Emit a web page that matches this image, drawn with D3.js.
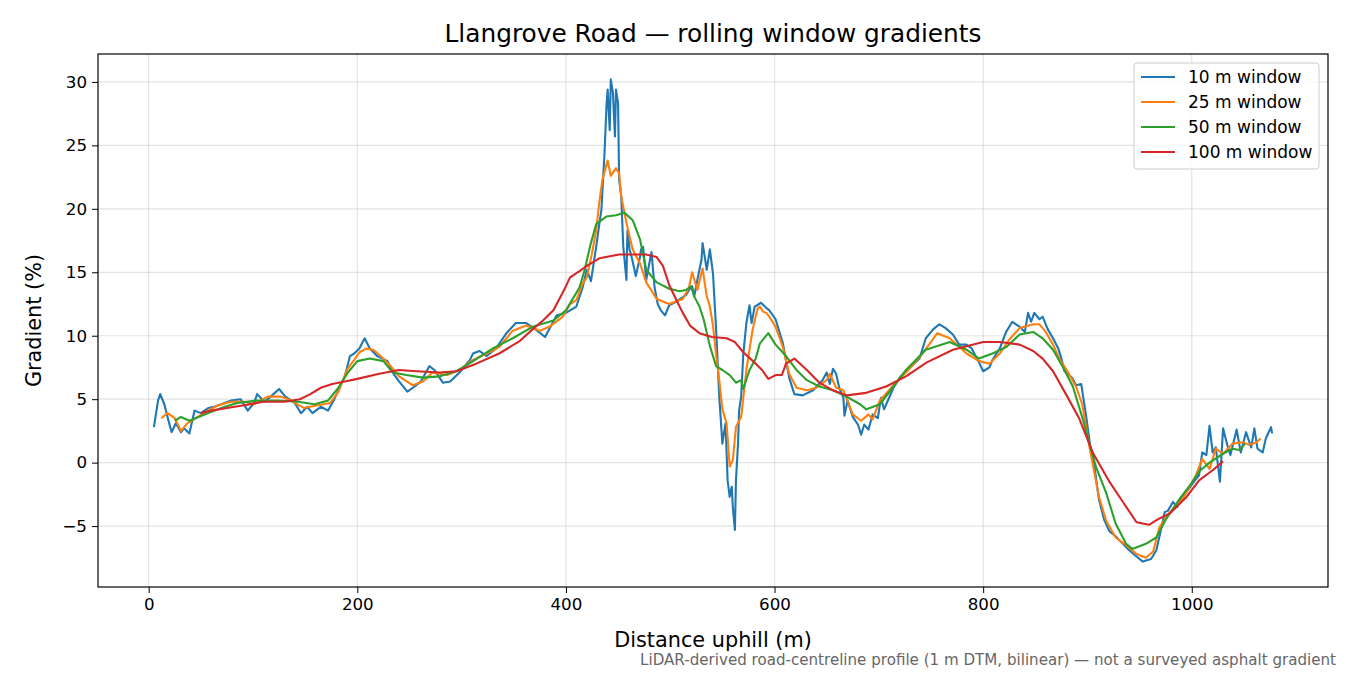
<!DOCTYPE html>
<html><head><meta charset="utf-8">
<script src="https://cdn.jsdelivr.net/npm/d3@7"></script>
<style>body{margin:0;background:#fff}svg{display:block;font-family:"DejaVu Sans",sans-serif}</style>
</head><body><svg id="c" width="1350" height="675"></svg>
<script>
const seriesNames = ["10 m window","25 m window","50 m window","100 m window"];
const seriesColors = ["#1f77b4","#ff7f0e","#2ca02c","#d62728"];
const xTicks = [0,200,400,600,800,1000];
const yTicks = [-5,0,5,10,15,20,25,30];

const w10 = [[5,2.8],[9,4.9],[11,5.4],[15,4.6],[19,3.3],[22,2.4],[26,3.1],[31,2.4],[34,2.7],[39,2.3],[44,4.1],[50,3.9],[57,4.3],[63,4.4],[73,4.7],[79,4.9],[88,5.0],[95,4.1],[101,4.7],[104,5.4],[111,4.8],[117,5.2],[125,5.8],[131,5.2],[140,4.7],[146,3.9],[152,4.4],[157,3.9],[165,4.4],[172,4.1],[178,5.0],[188,6.8],[193,8.4],[197,8.6],[202,9.0],[207,9.8],[212,9.0],[219,8.4],[229,8.0],[234,7.1],[240,6.4],[248,5.6],[255,6.0],[261,6.4],[269,7.6],[274,7.3],[282,6.3],[289,6.4],[298,7.1],[308,8.1],[311,8.6],[317,8.8],[324,8.4],[333,9.0],[343,10.2],[352,11.0],[362,11.0],[371,10.5],[380,9.9],[391,11.6],[400,11.8],[410,12.3],[416,13.8],[420,15.2],[424,14.3],[429,17.0],[432,18.8],[434,19.9],[437,24.4],[439,28.3],[440,29.4],[442,26.2],[443,30.2],[445,29.2],[447,25.7],[448,29.4],[450,28.3],[451,22.3],[453,21.0],[455,17.0],[458,14.4],[459,18.3],[461,16.8],[463,16.2],[467,14.7],[471,16.2],[472,16.8],[474,17.0],[477,14.4],[482,16.6],[485,13.8],[488,12.5],[491,12.0],[495,11.6],[499,12.4],[506,12.7],[515,13.2],[518,13.6],[521,13.9],[523,13.1],[526,14.4],[528,15.2],[530,16.0],[531,17.3],[535,15.2],[538,16.8],[541,14.9],[544,10.5],[547,5.2],[550,1.5],[553,3.1],[555,-1.4],[557,-2.7],[559,-1.9],[560,-3.5],[562,-5.3],[563,-1.4],[565,1.5],[566,4.1],[568,5.2],[570,8.5],[573,11.0],[576,12.4],[578,11.0],[581,12.3],[587,12.6],[592,12.2],[595,12.0],[601,11.3],[608,9.4],[614,6.7],[619,5.4],[627,5.3],[637,5.7],[646,6.5],[650,7.1],[653,6.2],[656,7.4],[659,7.0],[662,5.9],[666,5.1],[667,3.7],[670,4.9],[675,3.6],[680,3.0],[683,2.2],[686,3.0],[690,2.6],[694,3.8],[699,3.5],[702,5.1],[705,4.2],[714,5.9],[720,6.7],[729,7.4],[739,8.2],[745,9.8],[752,10.5],[758,10.9],[764,10.6],[771,10.1],[777,9.3],[784,9.3],[789,9.0],[796,7.9],[800,7.2],[806,7.5],[809,8.1],[816,9.0],[822,10.3],[828,11.1],[835,10.7],[840,10.3],[843,11.8],[846,11.1],[849,11.8],[854,11.3],[857,11.5],[862,10.5],[867,9.8],[872,9.0],[875,8.2],[878,7.2],[881,7.0],[886,6.6],[889,6.1],[894,6.2],[899,3.5],[904,0.5],[905,0.8],[908,-1.1],[911,-2.9],[916,-4.5],[921,-5.4],[927,-5.8],[934,-6.4],[940,-6.9],[947,-7.4],[953,-7.8],[961,-7.6],[966,-6.9],[971,-5.1],[974,-3.9],[977,-3.8],[982,-3.1],[986,-3.5],[990,-2.7],[996,-2.2],[1003,-1.4],[1007,-1.0],[1010,0.8],[1014,0.6],[1017,2.9],[1020,0.8],[1023,1.2],[1027,-1.5],[1030,2.7],[1034,1.4],[1037,0.6],[1043,2.6],[1047,0.8],[1052,2.4],[1057,1.2],[1060,2.7],[1063,1.1],[1068,0.8],[1071,1.9],[1076,2.8],[1077,2.3]];

const w25 = [[12,3.5],[18,3.9],[25,3.5],[31,2.5],[37,3.1],[45,3.5],[57,4.1],[66,4.5],[79,4.8],[92,4.8],[101,4.6],[114,5.2],[127,5.2],[136,4.9],[149,4.3],[161,4.5],[174,4.7],[182,5.6],[190,7.3],[197,8.1],[202,8.7],[209,9.0],[215,8.9],[221,8.5],[231,7.7],[240,6.8],[253,6.1],[263,6.4],[272,7.1],[286,6.9],[298,7.3],[311,8.1],[324,8.6],[336,9.1],[349,10.4],[362,10.8],[375,10.4],[384,10.7],[397,11.5],[404,12.5],[410,12.8],[416,14.1],[420,14.6],[425,16.5],[429,18.3],[432,20.5],[435,22.3],[440,23.8],[443,22.6],[448,23.2],[451,22.8],[453,21.0],[458,18.9],[464,16.8],[471,15.7],[477,14.2],[487,12.9],[499,12.5],[512,12.9],[518,13.8],[521,15.0],[526,13.6],[531,15.3],[535,13.1],[538,12.3],[541,10.8],[544,8.5],[547,6.5],[550,4.2],[554,3.1],[557,-0.3],[560,0.2],[563,2.8],[568,3.6],[573,7.3],[579,10.5],[584,12.2],[586,12.3],[589,11.9],[592,11.8],[595,11.5],[601,10.7],[608,9.1],[614,7.0],[621,5.9],[631,5.7],[640,5.9],[650,6.5],[653,7.0],[659,5.9],[666,5.7],[675,3.8],[683,3.3],[690,3.8],[694,3.4],[701,4.9],[714,6.1],[726,7.1],[739,8.3],[749,9.4],[756,10.2],[768,9.8],[784,8.6],[796,8.0],[806,7.8],[816,8.6],[825,9.7],[835,10.6],[848,10.9],[854,10.9],[860,10.3],[867,9.3],[873,8.2],[880,7.3],[889,6.0],[895,4.6],[902,1.2],[908,-1.4],[911,-2.7],[918,-4.6],[927,-5.9],[937,-6.5],[947,-7.2],[956,-7.5],[963,-7.0],[969,-5.1],[979,-3.9],[991,-2.9],[1004,-1.0],[1010,0.3],[1017,-0.5],[1023,1.1],[1030,0.7],[1039,1.5],[1049,1.6],[1055,1.4],[1062,1.6],[1066,1.9]];

const w50 = [[25,3.3],[31,3.6],[39,3.3],[45,3.5],[60,4.0],[73,4.4],[85,4.7],[104,4.9],[124,4.9],[143,4.8],[159,4.6],[172,4.9],[181,5.8],[191,7.1],[200,8.0],[212,8.2],[225,8.0],[234,7.1],[247,6.9],[263,6.7],[279,6.8],[295,7.2],[311,8.0],[330,9.0],[349,9.8],[368,10.7],[388,11.2],[400,12.0],[413,13.8],[418,15.2],[423,17.0],[429,18.8],[439,19.4],[448,19.5],[456,19.7],[464,19.1],[471,17.6],[477,15.2],[487,14.2],[499,13.7],[509,13.5],[515,13.6],[520,13.9],[523,13.1],[528,12.3],[532,11.3],[538,9.2],[544,7.6],[550,7.3],[557,6.9],[563,6.3],[568,6.5],[570,5.8],[576,7.3],[582,8.2],[586,9.4],[594,10.2],[601,9.3],[611,8.4],[621,7.3],[631,6.5],[643,6.0],[656,5.7],[669,5.2],[682,4.6],[688,4.2],[701,4.6],[714,6.0],[726,7.3],[745,8.9],[768,9.5],[784,8.9],[796,8.2],[809,8.6],[822,9.1],[835,10.1],[848,10.3],[857,9.8],[867,8.9],[876,7.6],[886,6.0],[896,3.3],[908,-0.3],[918,-2.4],[927,-4.8],[937,-6.4],[943,-6.8],[956,-6.4],[966,-5.9],[975,-4.5],[988,-2.9],[1000,-1.6],[1007,-0.7],[1017,0.0],[1030,0.7],[1039,1.1],[1046,1.0],[1051,1.5]];

const w100 = [[50,3.9],[60,4.1],[75,4.3],[90,4.5],[110,4.8],[130,4.8],[145,5.0],[155,5.4],[165,5.9],[176,6.2],[188,6.4],[200,6.6],[221,7.0],[240,7.3],[257,7.2],[279,7.1],[295,7.2],[314,7.8],[336,8.6],[356,9.6],[368,10.5],[378,11.2],[388,12.0],[397,13.4],[404,14.6],[413,15.1],[422,15.6],[432,16.1],[451,16.4],[465,16.4],[477,16.4],[487,16.2],[493,15.5],[499,14.0],[506,12.8],[512,11.8],[519,10.8],[528,10.2],[540,9.9],[554,9.8],[562,9.5],[570,8.7],[582,7.8],[588,7.3],[594,6.6],[601,6.9],[607,6.9],[611,7.8],[619,8.2],[631,7.3],[643,6.3],[656,5.7],[669,5.3],[688,5.5],[707,6.0],[726,6.8],[746,7.9],[771,8.9],[800,9.5],[816,9.5],[835,9.3],[848,8.8],[857,8.2],[867,7.2],[880,5.3],[892,3.5],[905,0.8],[921,-1.5],[934,-3.1],[947,-4.7],[959,-4.9],[969,-4.4],[979,-4.0],[995,-2.7],[1007,-1.4],[1020,-0.6],[1030,0.1]];

const allSeries = [w10, w25, w50, w100];

const svg = d3.select("#c");
const L=98, R=1328, T=54, B=587;
const x = d3.scaleLinear().domain([-48.6,1130.6]).range([L,R]);
const y = d3.scaleLinear().domain([-9.8,32.2]).range([B,T]);
const fmt = v => v<0 ? "\u2212"+Math.abs(v) : String(v);

const grid = svg.append("g");
xTicks.forEach(t=>grid.append("line").attr("x1",x(t)).attr("x2",x(t)).attr("y1",T).attr("y2",B).attr("stroke","#b0b0b0").attr("stroke-opacity",0.35).attr("stroke-width",1.2));
yTicks.forEach(t=>grid.append("line").attr("x1",L).attr("x2",R).attr("y1",y(t)).attr("y2",y(t)).attr("stroke","#b0b0b0").attr("stroke-opacity",0.35).attr("stroke-width",1.2));

svg.append("defs").append("clipPath").attr("id","clp").append("rect").attr("x",L).attr("y",T).attr("width",R-L).attr("height",B-T);
const line = d3.line().x(d=>x(d[0])).y(d=>y(d[1]));
const lines = svg.append("g").attr("clip-path","url(#clp)");
allSeries.forEach((s,i)=>lines.append("path").attr("d",line(s)).attr("fill","none").attr("stroke",seriesColors[i]).attr("stroke-width",2.1).attr("stroke-linejoin","round"));

const xa = svg.append("g").attr("transform",`translate(0,${B})`).call(d3.axisBottom(x).tickValues(xTicks).tickSize(6).tickPadding(5).tickFormat(fmt));
const ya = svg.append("g").attr("transform",`translate(${L},0)`).call(d3.axisLeft(y).tickValues(yTicks).tickSize(6).tickPadding(5).tickFormat(fmt));
[xa,ya].forEach(a=>{a.select(".domain").remove();a.selectAll("text").attr("font-size",16.7).attr("fill","#000").attr("font-family","DejaVu Sans");a.selectAll("line").attr("stroke","#000");});

svg.append("rect").attr("x",L).attr("y",T).attr("width",R-L).attr("height",B-T).attr("fill","none").attr("stroke","#000").attr("stroke-width",1.2);

svg.append("text").attr("x",(L+R)/2).attr("y",42).attr("text-anchor","middle").attr("font-size",24.8).text("Llangrove Road \u2014 rolling window gradients");
svg.append("text").attr("x",(L+R)/2).attr("y",647).attr("text-anchor","middle").attr("font-size",20.8).text("Distance uphill (m)");
svg.append("text").attr("transform",`translate(41,${(T+B)/2}) rotate(-90)`).attr("text-anchor","middle").attr("font-size",20.8).text("Gradient (%)");
svg.append("text").attr("x",1336).attr("y",665).attr("text-anchor","end").attr("font-size",15.1).attr("fill","#666").text("LiDAR-derived road-centreline profile (1 m DTM, bilinear) \u2014 not a surveyed asphalt gradient");

const lg = svg.append("g");
lg.append("rect").attr("x",1134).attr("y",63).attr("width",185).attr("height",106).attr("rx",3).attr("fill","#fff").attr("fill-opacity",0.8).attr("stroke","#ccc");
seriesNames.forEach((n,i)=>{
  const yy = 77 + i*25;
  lg.append("line").attr("x1",1141).attr("x2",1175).attr("y1",yy).attr("y2",yy).attr("stroke",seriesColors[i]).attr("stroke-width",2.1);
  lg.append("text").attr("x",1188).attr("y",yy+5.5).attr("font-size",17).text(n);
});
</script></body></html>
